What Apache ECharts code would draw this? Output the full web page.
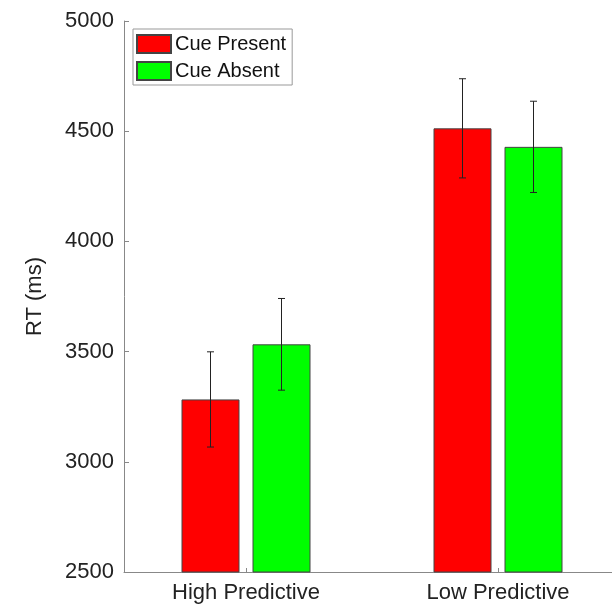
<!DOCTYPE html>
<html>
<head>
<meta charset="utf-8">
<script src="https://cdn.jsdelivr.net/npm/echarts@6/dist/echarts.min.js"></script>
<style>
html,body{margin:0;padding:0;background:#fff;}
#chart{width:612px;height:605px;}
</style>
</head>
<body>
<div id="chart"></div>
<script>
var categories = ['High Predictive', 'Low Predictive'];
var seriesNames = ['Cue Present', 'Cue Absent'];
var cuePresent = [3283, 4513];
var cueAbsent = [3533, 4429];
var cuePresentErr = [216, 225];
var cueAbsentErr = [208, 207];
var yTicks = [2500, 3000, 3500, 4000, 4500, 5000];

var BAR_W = 58, BAR_GAP_PX = 13;
var FONT = '"Liberation Sans", Arial, sans-serif';
var chart = echarts.init(document.getElementById('chart'), null, {renderer: 'canvas'});

function errSeries(vals, errs, sign) {
  var data = vals.map(function (v, i) { return [i, v - errs[i], v + errs[i]]; });
  return {
    type: 'custom',
    silent: true,
    z: 10,
    xAxisIndex: 0, yAxisIndex: 0,
    data: data,
    encode: {x: 0, y: [1, 2]},
    renderItem: function (params, api) {
      var lo = api.coord([api.value(0), api.value(1)]);
      var hi = api.coord([api.value(0), api.value(2)]);
      var dx = sign * (BAR_W + BAR_GAP_PX) / 2;
      var x = lo[0] + dx;
      var cap = 3.5;
      var st = {stroke: '#222', lineWidth: 1, fill: null};
      return {
        type: 'group',
        children: [
          {type: 'line', shape: {x1: x, y1: lo[1], x2: x, y2: hi[1]}, style: st},
          {type: 'line', shape: {x1: x - cap, y1: lo[1], x2: x + cap, y2: lo[1]}, style: st},
          {type: 'line', shape: {x1: x - cap, y1: hi[1], x2: x + cap, y2: hi[1]}, style: st}
        ]
      };
    }
  };
}

var option = {
  animation: false,
  backgroundColor: '#fff',
  textStyle: {fontFamily: FONT},
  grid: [
    {left: 120, width: 504, top: 21, bottom: 33, containLabel: false, outerBoundsMode: 'none'},
    {left: 124, width: 500, top: 21, bottom: 33, containLabel: false, outerBoundsMode: 'none'}
  ],
  legend: {
    show: true,
    left: 133, top: 29,
    orient: 'vertical',
    data: seriesNames,
    icon: 'rect',
    itemWidth: 34, itemHeight: 18, itemGap: 7,
    padding: [5, 6, 4, 3],
    borderColor: '#999', borderWidth: 1,
    backgroundColor: '#fff',
    textStyle: {fontFamily: FONT, fontSize: 20, color: '#111', padding: [0, 0, 0, -1]},
    selectedMode: false
  },
  xAxis: [
    {
      type: 'category',
      gridIndex: 0,
      data: categories,
      axisLine: {show: false},
      axisTick: {show: true, inside: true, alignWithLabel: true, length: 4, lineStyle: {color: '#888'}},
      axisLabel: {fontFamily: FONT, fontSize: 22, color: '#222', margin: 10},
      splitLine: {show: false}
    },
    {
      type: 'value',
      gridIndex: 1,
      min: 0, max: 1,
      axisLine: {show: true, lineStyle: {color: '#888', width: 1}},
      axisTick: {show: false},
      axisLabel: {show: false},
      splitLine: {show: false}
    }
  ],
  yAxis: [
    {
      type: 'value',
      gridIndex: 0,
      offset: -4,
      min: 2500, max: 5000, interval: 500,
      name: 'RT (ms)',
      nameLocation: 'middle',
      nameGap: 78,
      nameTextStyle: {fontFamily: FONT, fontSize: 22, color: '#222'},
      axisLine: {show: true, lineStyle: {color: '#888', width: 1}},
      axisTick: {show: true, inside: true, length: 5, lineStyle: {color: '#888'}},
      axisLabel: {fontFamily: FONT, fontSize: 22, color: '#222', margin: 10,
        formatter: function (v) { return yTicks.indexOf(v) >= 0 ? String(v) : ''; }},
      splitLine: {show: false}
    },
    {
      type: 'value',
      gridIndex: 1,
      show: false
    }
  ],
  series: [
    {
      name: seriesNames[0], type: 'bar', data: cuePresent,
      xAxisIndex: 0, yAxisIndex: 0,
      barWidth: BAR_W, barGap: (BAR_GAP_PX / BAR_W * 100) + '%',
      itemStyle: {color: '#ff0000', borderColor: '#444', borderWidth: 1}
    },
    {
      name: seriesNames[1], type: 'bar', data: cueAbsent,
      xAxisIndex: 0, yAxisIndex: 0,
      barWidth: BAR_W, barGap: (BAR_GAP_PX / BAR_W * 100) + '%',
      itemStyle: {color: '#00ff00', borderColor: '#444', borderWidth: 1}
    },
    errSeries(cuePresent, cuePresentErr, -1),
    errSeries(cueAbsent, cueAbsentErr, 1)
  ]
};
chart.setOption(option);
</script>
</body>
</html>
